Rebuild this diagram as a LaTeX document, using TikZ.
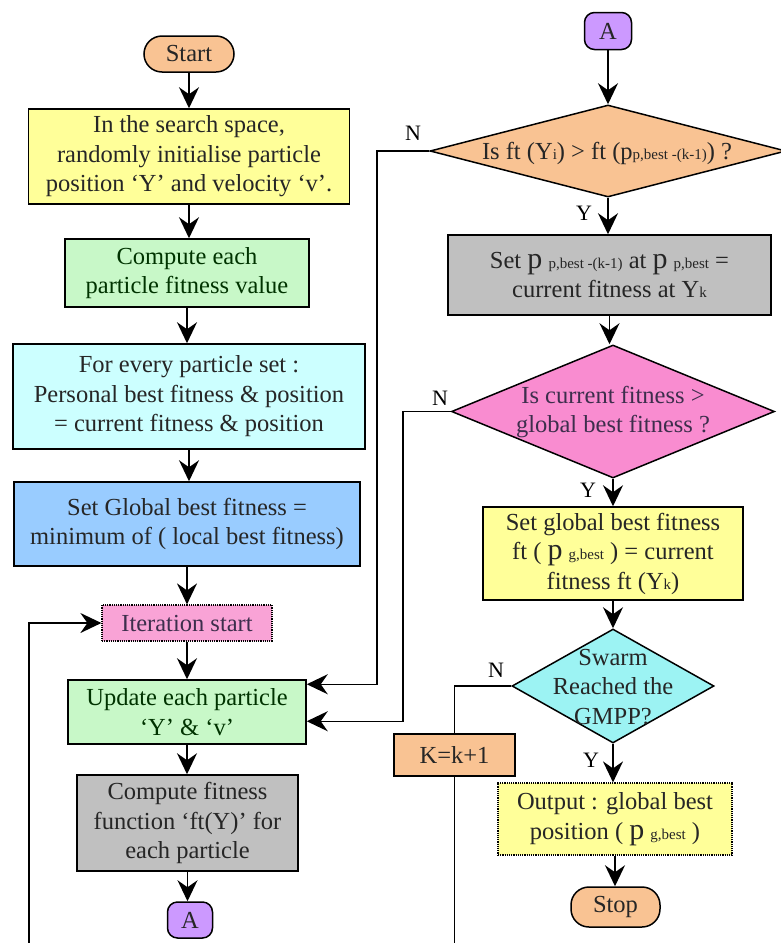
\documentclass[tikz,border=0pt]{standalone}
\usepackage{fontspec}
\setmainfont{Liberation Serif}
\usetikzlibrary{shapes.geometric,arrows.meta}

\definecolor{peach}{HTML}{F9C393}
\definecolor{lyellow}{HTML}{FFFF99}
\definecolor{lgreen}{HTML}{C8F8C8}
\definecolor{lcyan}{HTML}{CCFFFF}
\definecolor{lblue}{HTML}{99CCFF}
\definecolor{lpink}{HTML}{F9A3D6}
\definecolor{lgray}{HTML}{C0C0C0}
\definecolor{violet}{HTML}{CC99FF}
\definecolor{magpink}{HTML}{F98CD0}
\definecolor{dcyan}{HTML}{9CF3F3}

% small index text set on the baseline, and the larger letter p
\newcommand{\idx}[1]{{\fontsize{15}{15}\selectfont #1}}
\newcommand{\pp}{{\fontsize{30}{30}\selectfont p}}

\begin{document}
\begin{tikzpicture}[x=1pt,y=-1pt,
  every node/.style={font=\fontsize{24.5}{29.5}\selectfont, align=center, inner sep=0pt, text=black!85},
  box/.style={draw, line width=1.5pt, rectangle},
  dotbox/.style={draw, line width=1.2pt, densely dotted, rectangle},
  term/.style={draw, line width=1.5pt, rectangle, rounded corners=18pt},
  conn/.style={draw, line width=1.5pt, rectangle, rounded corners=10pt},
  dia/.style={draw, line width=1.5pt, diamond, inner sep=0pt},
  lbl/.style={font=\fontsize{22}{22}\selectfont, text=black},
  arr/.style={line width=1.5pt, -{Stealth[length=21pt, width=20pt, inset=7pt]}},
  ln/.style={line width=1.5pt}]

\useasboundingbox (0,0) rectangle (780,943);

% ---------- left column ----------
\node[term, fill=peach, minimum width=90, minimum height=36] (start) at (189,54) {Start};
\node[box, fill=lyellow, minimum width=321, minimum height=95] (init) at (189,156.5)
  {In the search space,\\ randomly initialise particle\\ position `Y' and velocity `v'.};
\node[box, fill=lgreen, minimum width=244, minimum height=68, text=green!20!black] (fit) at (187,273)
  {Compute each\\ particle fitness value};
\node[box, fill=lcyan, minimum width=352, minimum height=105] (pbest) at (189,396.5)
  {For every particle set :\\ Personal best fitness \& position\\ = current fitness \& position};
\node[box, fill=lblue, minimum width=346, minimum height=84] (gbest) at (187,524)
  {Set Global best fitness =\\ minimum of ( local best fitness)};
\node[dotbox, fill=lpink, minimum width=170, minimum height=36, text=black!70!violet] (iter) at (187,623)
  {Iteration start};
\node[box, fill=lgreen, minimum width=238, minimum height=64, text=green!20!black] (upd) at (187,712)
  {Update each particle\\ `Y' \& `v'};
\node[box, fill=lgray, minimum width=221, minimum height=96] (comp) at (187.5,823)
  {Compute fitness\\ function `ft(Y)' for\\ each particle};
\node[conn, fill=violet, minimum width=45, minimum height=36] (A1) at (190,920) {A};

% ---------- right column ----------
\node[conn, fill=violet, minimum width=47, minimum height=37] (A2) at (608,31) {A};
\node[dia, fill=peach, minimum width=356, minimum height=92] (d1) at (608,151) {};
\node at (607,153) {Is ft (Y\idx{i}) > ft (p\idx{p,best -(k-1)}) ?};
\node[box, fill=lgray, minimum width=323, minimum height=80] (setp) at (609.5,275)
  {Set \pp\ \idx{p,best -(k-1)} at \pp\ \idx{p,best} =\\ current fitness at Y\idx{k}};
\node[dia, fill=magpink, minimum width=323, minimum height=133] (d2) at (613,411.5) {};
\node[text=black!70!violet] at (613,412) {Is current fitness >\\ global best fitness ?};
\node[box, fill=lyellow, minimum width=260, minimum height=93] (setg) at (613,553.5)
  {Set global best fitness\\ ft ( \pp\ \idx{g,best} ) = current\\ fitness ft (Y\idx{k})};
\node[dia, fill=dcyan, minimum width=202, minimum height=114] (d3) at (613,686) {};
\node at (613,687) {Swarm\\ Reached the\\ GMPP?};
\node[box, fill=peach, minimum width=121, minimum height=42] (kinc) at (454.5,755) {K=k+1};
\node[dotbox, fill=lyellow, minimum width=234, minimum height=72] (out) at (615,819)
  {Output : global best\\ position ( \pp\ \idx{g,best} )};
\node[term, fill=peach, minimum width=89, minimum height=40] (stop) at (615.5,907) {Stop};

% branch labels
\node[lbl] (n1) at (413,133) {N};
\node[lbl] (y1) at (584,213) {Y};
\node[lbl] (n2) at (440,398) {N};
\node[lbl] (y2) at (588,490) {Y};
\node[lbl] (n3) at (496,670) {N};
\node[lbl] (y3) at (591,760) {Y};

% rails and entry points
\coordinate (rail1) at (377,0);
\coordinate (rail2) at (403,0);
\coordinate (rail0) at (29,0);
\coordinate (bottom) at (0,943);
\coordinate (in1) at ([yshift=-5pt]upd.north east);
\coordinate (in2) at ([yshift=-42pt]upd.north east);

% ---------- connectors ----------
\draw[arr] (start.south) -- (start.south |- init.north);
\draw[arr] (init.south) -- (init.south |- fit.north);
\draw[arr] (fit.south) -- (fit.south |- pbest.north);
\draw[arr] (pbest.south) -- (pbest.south |- gbest.north);
\draw[arr] (gbest.south) -- (gbest.south |- iter.north);
\draw[arr] (iter.south) -- (iter.south |- upd.north);
\draw[arr] (upd.south) -- (upd.south |- comp.north);
\draw[arr] (comp.south) -- (comp.south |- A1.north);

\draw[arr] (A2.south) -- (A2.south |- d1.north);
\draw[arr] (d1.south) -- (d1.south |- setp.north);
\draw[arr] (setp.south) -- (setp.south |- d2.north);
\draw[arr] (d2.south) -- (d2.south |- setg.north);
\draw[arr] (setg.south) -- (setg.south |- d3.north);
\draw[arr] (d3.south) -- (d3.south |- out.north);
\draw[arr] (out.south) -- (out.south |- stop.north);

\draw[arr] (d1.west) -- (d1.west -| rail1) -- (rail1 |- in1) -- (in1);
\draw[arr] (d2.west) -- (d2.west -| rail2) -- (rail2 |- in2) -- (in2);
\draw[ln] (d3.west) -| (kinc.north);
\draw[ln] (kinc.south) -- (kinc.south |- bottom);
\draw[arr] (rail0 |- bottom) |- (iter.west);

\end{tikzpicture}
\end{document}
